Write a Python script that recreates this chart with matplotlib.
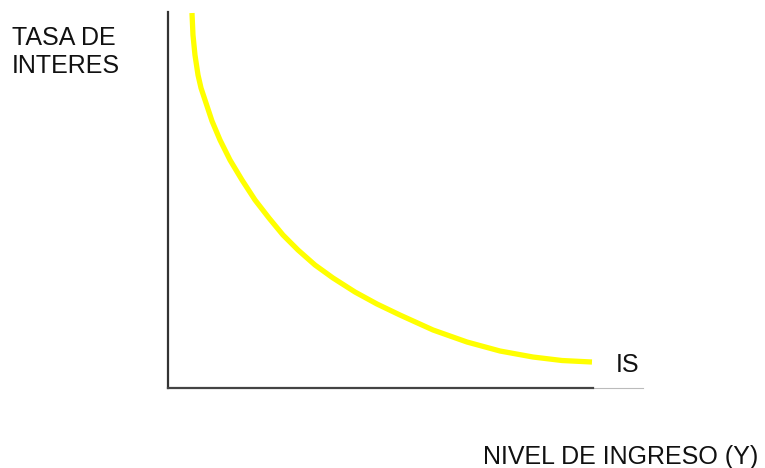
import matplotlib
matplotlib.use("Agg")
import matplotlib.pyplot as plt

# curva (ingreso, tasa de interes), escala 0-100
ingreso = [5.05, 5.26, 5.68, 6.32, 6.95, 7.79, 9.26, 10.95, 13.05, 15.58, 18.32, 21.26, 24.21,
           27.37, 30.95, 34.74, 39.37, 44.00, 48.84, 55.79, 62.95, 69.89, 76.84, 82.95, 89.26]
tasa = [99.73, 93.88, 88.56, 83.24, 79.79, 76.60, 71.01, 65.96, 60.64, 55.32, 50.00, 45.21, 40.69,
        36.70, 32.71, 29.26, 25.53, 22.34, 19.41, 15.43, 12.23, 9.84, 8.24, 7.31, 6.91]

plt.rcParams["font.family"] = ["Liberation Sans", "DejaVu Sans"]

W, H = 765, 468
fig = plt.figure(figsize=(W / 100, H / 100), dpi=100)
ax = fig.add_axes([168 / W, (H - 388) / H, 475 / W, 376 / H])
ax.set_xlim(0, 100)
ax.set_ylim(0, 100)

ax.plot(ingreso, tasa, color="#ffff00", lw=3.8, solid_capstyle="butt",
        solid_joinstyle="round")

for s in ["top", "right"]:
    ax.spines[s].set_visible(False)
ax.spines["left"].set_color("#333333")
ax.spines["left"].set_linewidth(1.6)
ax.spines["bottom"].set_color("#444444")
ax.spines["bottom"].set_linewidth(1.6)
ax.spines["bottom"].set_bounds(0, 89.5)
ax.plot([89.5, 100], [0, 0], color="#bbbbbb", lw=0.8, clip_on=False)
ax.set_xticks([])
ax.set_yticks([])
ax.patch.set_alpha(0)

fig.text(12 / W, 1 - 45 / H, "TASA DE", fontsize=18, va="baseline", color="#111111")
fig.text(12 / W, 1 - 73 / H, "INTERES", fontsize=18, va="baseline", color="#111111")
fig.text(616 / W, 1 - 372 / H, "IS", fontsize=18, va="baseline", color="#111111")
fig.text(483 / W, 1 - 464 / H, "NIVEL DE INGRESO (Y)", fontsize=18, va="baseline", color="#111111")

fig.savefig("out.png", dpi=100)
